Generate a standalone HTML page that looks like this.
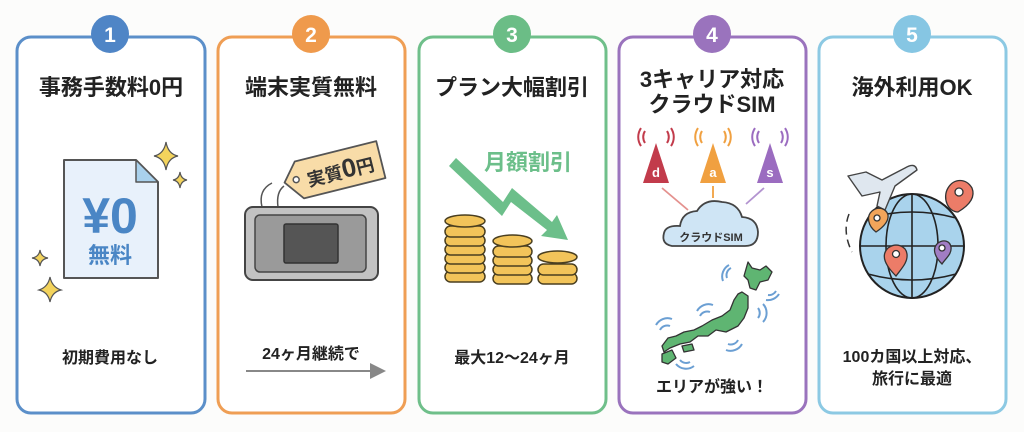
<!DOCTYPE html>
<html><head><meta charset="utf-8"><style>
html,body{margin:0;padding:0;background:#fcfcfb;}
svg{display:block;}
text{font-family:"Liberation Sans","Noto Sans CJK JP",sans-serif;font-weight:bold;}
</style></head><body>
<svg width="1024" height="432" viewBox="0 0 1024 432" xmlns="http://www.w3.org/2000/svg">
<rect width="1024" height="432" fill="#fcfcfb"/>
<rect x="17" y="37" width="188" height="376" rx="14" fill="#fff" stroke="#5b8fc9" stroke-width="3"/>
<rect x="218" y="37" width="187" height="376" rx="14" fill="#fff" stroke="#ef9e54" stroke-width="3"/>
<rect x="419" y="37" width="187" height="376" rx="14" fill="#fff" stroke="#6fbf8a" stroke-width="3"/>
<rect x="619" y="37" width="187" height="376" rx="14" fill="#fff" stroke="#9a73bd" stroke-width="3"/>
<rect x="819" y="37" width="187" height="376" rx="14" fill="#fff" stroke="#8cc9e3" stroke-width="3"/>
<circle cx="110" cy="34" r="19" fill="#4f85c6"/><text x="110" y="42" font-size="21" fill="#fff" text-anchor="middle">1</text>
<circle cx="311" cy="34" r="19" fill="#ef9a4c"/><text x="311" y="42" font-size="21" fill="#fff" text-anchor="middle">2</text>
<circle cx="512" cy="34" r="19" fill="#6bbd86"/><text x="512" y="42" font-size="21" fill="#fff" text-anchor="middle">3</text>
<circle cx="712" cy="34" r="19" fill="#9a73bd"/><text x="712" y="42" font-size="21" fill="#fff" text-anchor="middle">4</text>
<circle cx="912" cy="34" r="19" fill="#86c6e3"/><text x="912" y="42" font-size="21" fill="#fff" text-anchor="middle">5</text>
<g fill="#222" font-size="22" text-anchor="middle">
<text x="111" y="95">事務手数料0円</text>
<text x="311" y="95">端末実質無料</text>
<text x="512" y="95">プラン大幅割引</text>
<text x="712" y="87">3キャリア対応</text>
<text x="712" y="112">クラウドSIM</text>
<text x="912" y="95">海外利用OK</text>
</g>
<path d="M64 160 H136 L158 182 V278 H64 Z" fill="#e8f1fb" stroke="#555" stroke-width="2" stroke-linejoin="round"/>
<path d="M136 160 V182 H158 Z" fill="#a9d1ec" stroke="#555" stroke-width="1.5" stroke-linejoin="round"/>
<text x="110" y="233" font-size="50" fill="#4a86c5" text-anchor="middle">¥0</text>
<text x="110" y="263" font-size="22" fill="#4a86c5" text-anchor="middle">無料</text>
<g fill="#f3d35c" stroke="#555" stroke-width="1.2">
<path d="M166 142 Q168 154 178 156 Q168 158 166 170 Q164 158 154 156 Q164 154 166 142Z"/>
<path d="M180 172 Q181 179 187 180 Q181 181 180 188 Q179 181 173 180 Q179 179 180 172Z"/>
<path d="M40 250 Q41 257 48 258 Q41 259 40 266 Q39 259 32 258 Q39 257 40 250Z"/>
<path d="M50 277 Q52 287 61 290 Q52 292 50 302 Q48 292 39 290 Q48 287 50 277Z"/>
</g>
<text x="110" y="363" font-size="16" fill="#222" text-anchor="middle">初期費用なし</text>
<path d="M262 207 Q258 190 272 183 M278 207 Q276 192 284 186" fill="none" stroke="#555" stroke-width="1.5"/>
<g transform="rotate(-14 335 170)">
<path d="M283 170 L298 152 H382 V190 H298 Z" fill="#f8dca8" stroke="#555" stroke-width="1.8" stroke-linejoin="round"/>
<circle cx="295" cy="170" r="3" fill="#fff" stroke="#555" stroke-width="1.5"/>
<text x="340" y="180" font-size="18" fill="#333" text-anchor="middle">実質<tspan font-size="26">0</tspan>円</text>
</g>
<rect x="245" y="207" width="133" height="73" rx="8" fill="#c2c2c2" stroke="#444" stroke-width="2"/>
<rect x="255" y="215" width="111" height="57" rx="5" fill="#9a9a9a" stroke="#444" stroke-width="1.5"/>
<rect x="284" y="224" width="54" height="39" rx="2" fill="#555" stroke="#333" stroke-width="1.5"/>
<text x="311" y="359" font-size="16" fill="#222" text-anchor="middle">24ヶ月継続で</text>
<line x1="246" y1="371" x2="373" y2="371" stroke="#888" stroke-width="2"/>
<path d="M370 363 L386 371 L370 379 Z" fill="#888"/>
<text x="528" y="170" font-size="22" fill="#6cbf8a" text-anchor="middle">月額割引</text>
<path d="M449 166 L456 158 L503 202 L512 188 L552 222 L557 215 L568 240 L541 236 L547 230 L511 202 L502 216 Z" fill="#6cbf8a"/>
<g stroke="#4a3f20" stroke-width="1.5" fill="#f2c45a">
<rect x="445" y="271" width="40" height="11" rx="5.5"/><rect x="445" y="262" width="40" height="11" rx="5.5"/><rect x="445" y="253" width="40" height="11" rx="5.5"/><rect x="445" y="244" width="40" height="11" rx="5.5"/><rect x="445" y="235" width="40" height="11" rx="5.5"/><rect x="445" y="226" width="40" height="11" rx="5.5"/><ellipse cx="465" cy="221" rx="20" ry="6"/>
<rect x="493" y="273" width="39" height="11" rx="5.5"/><rect x="493" y="264" width="39" height="11" rx="5.5"/><rect x="493" y="255" width="39" height="11" rx="5.5"/><rect x="493" y="246" width="39" height="11" rx="5.5"/><ellipse cx="512.5" cy="241" rx="19.5" ry="6"/>
<rect x="538" y="273" width="39" height="11" rx="5.5"/><rect x="538" y="264" width="39" height="11" rx="5.5"/><ellipse cx="557.5" cy="257" rx="19.5" ry="6"/>
</g>
<text x="512" y="363" font-size="16" fill="#222" text-anchor="middle">最大12〜24ヶ月</text>
<g>
<path d="M656 143 L643 183 H669 Z" fill="#c23b4b"/><text x="656" y="177" font-size="13" fill="#fff" text-anchor="middle" font-weight="normal">d</text>
<path d="M645 143 a11 11 0 0 1 0-12 M667 131 a11 11 0 0 1 0 12 M641 146 a16 16 0 0 1 0-18 M671 128 a16 16 0 0 1 0 18" fill="none" stroke="#c23b4b" stroke-width="2"/>
<path d="M713 143 L700 183 H726 Z" fill="#f0a040"/><text x="713" y="177" font-size="13" fill="#fff" text-anchor="middle" font-weight="normal">a</text>
<path d="M702 143 a11 11 0 0 1 0-12 M724 131 a11 11 0 0 1 0 12 M698 146 a16 16 0 0 1 0-18 M728 128 a16 16 0 0 1 0 18" fill="none" stroke="#f0a040" stroke-width="2"/>
<path d="M770 143 L757 183 H783 Z" fill="#9b6cc0"/><text x="770" y="177" font-size="13" fill="#fff" text-anchor="middle" font-weight="normal">s</text>
<path d="M759 143 a11 11 0 0 1 0-12 M781 131 a11 11 0 0 1 0 12 M755 146 a16 16 0 0 1 0-18 M785 128 a16 16 0 0 1 0 18" fill="none" stroke="#9b6cc0" stroke-width="2"/>
</g>
<line x1="662" y1="188" x2="688" y2="210" stroke="#e4918e" stroke-width="1.8"/>
<line x1="713" y1="186" x2="713" y2="198" stroke="#f0a040" stroke-width="1.8"/>
<line x1="764" y1="188" x2="746" y2="204" stroke="#b394d0" stroke-width="1.8"/>
<path d="M672 246 Q661 244 664 233 Q666 225 680 226 Q682 212 697 211 Q705 198 722 202 Q738 203 742 217 Q757 218 758 232 Q758 246 745 246 Z" fill="#cfe5f5" stroke="#444" stroke-width="1.8"/>
<text x="711" y="241" font-size="11" fill="#333" text-anchor="middle">クラウドSIM</text>
<path d="M748 262 L752 268 L760 270 L766 266 L772 272 L768 280 L760 282 L756 290 L750 288 L748 280 L744 276 Z M742 292 L748 296 L748 308 L744 318 L738 326 L726 332 L716 330 L708 336 L698 336 L690 342 L680 344 L670 348 L664 352 L662 346 L668 338 L676 336 L684 332 L694 330 L702 326 L712 320 L722 316 L730 310 L734 300 L738 294 Z M662 354 L672 350 L676 358 L668 364 L662 362 Z M682 346 L692 344 L694 350 L684 352 Z" fill="#5fb572" stroke="#333" stroke-width="1.3" stroke-linejoin="round"/>
<g fill="none" stroke="#6b9fd3" stroke-width="2">
<path d="M727 278 a8 8 0 0 1 4-10 M723 281 a13 13 0 0 1 6-16"/>
<path d="M768 295 a8 8 0 0 0 8-4 M766 300 a13 13 0 0 0 13-6"/>
<path d="M758 318 a8 8 0 0 0 0-10 M763 322 a13 13 0 0 0 0-18"/>
<path d="M700 316 a8 8 0 0 1 10-4 M697 311 a13 13 0 0 1 16-6"/>
<path d="M660 330 a8 8 0 0 1 10-4 M656 325 a13 13 0 0 1 16-6"/>
<path d="M728 344 a8 8 0 0 0 10-4 M726 350 a13 13 0 0 0 16-6"/>
<path d="M680 360 a8 8 0 0 0 10 2 M676 364 a13 13 0 0 0 18 2"/>
</g>
<text x="712" y="392" font-size="16" fill="#222" text-anchor="middle">エリアが強い！</text>
<path d="M849 214 Q842 232 852 252" fill="none" stroke="#333" stroke-width="1.5" stroke-dasharray="8 5"/>
<circle cx="912" cy="246" r="52" fill="#a9d3ec" stroke="#222" stroke-width="2"/>
<g fill="none" stroke="#222" stroke-width="1.6">
<ellipse cx="912" cy="246" rx="26" ry="52"/>
<line x1="912" y1="194" x2="912" y2="298"/>
<line x1="860" y1="246" x2="964" y2="246"/>
<path d="M868 218 Q912 206 956 218 M868 274 Q912 286 956 274"/>
</g>
<path d="M848 176 L866 172 L882 180 L905 168 Q915 162 917 170 L895 186 L885 210 L877 206 L880 192 L862 196 Z" fill="#dfe7ef" stroke="#444" stroke-width="1.4" stroke-linejoin="round"/>
<g stroke="#333" stroke-width="1.3">
<path d="M958 212 C948 212 942 198 948 188 C954 178 966 178 972 188 C976 198 968 206 958 212Z" fill="#ec7c68"/><circle cx="959" cy="192" r="4" fill="#fff"/>
<path d="M876 232 C868 226 866 216 872 211 C878 206 886 208 888 215 C889 222 882 228 876 232Z" fill="#f2a55a"/><circle cx="877" cy="218" r="3" fill="#fff"/>
<path d="M896 276 C886 266 880 256 888 248 C896 242 906 246 907 254 C908 262 902 268 896 276Z" fill="#ec7c68"/><circle cx="896" cy="254" r="3.5" fill="#fff"/>
<path d="M942 264 C934 256 932 248 938 243 C944 239 950 241 951 247 C952 254 946 258 942 264Z" fill="#a17dc4"/><circle cx="942" cy="248" r="3" fill="#fff"/>
</g>
<text x="912" y="362" font-size="16" fill="#222" text-anchor="middle">100カ国以上対応、</text>
<text x="912" y="384" font-size="16" fill="#222" text-anchor="middle">旅行に最適</text>
</svg>
</body></html>
